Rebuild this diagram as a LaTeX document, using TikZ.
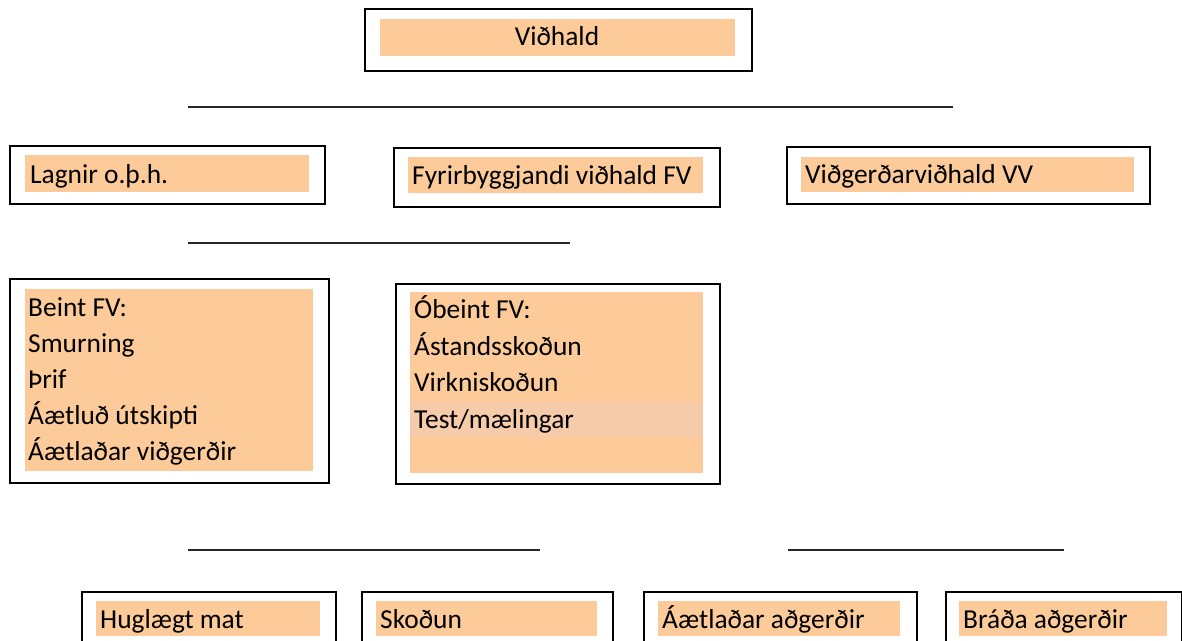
\documentclass[tikz,border=0pt]{standalone}
\usepackage{fontspec}
\setmainfont{Carlito}
\definecolor{peach}{RGB}{253,203,153}
\definecolor{peachrow}{RGB}{245,203,170}
\tikzset{
  obox/.style={draw=black, line width=2pt, inner sep=0pt, anchor=north west, fill=none},
  txt/.style={inner sep=0pt, anchor=base west, font=\fontsize{27.4}{36}\selectfont},
  rule/.style={draw=black!85, line width=1.1pt},
}
\newcommand\mybox[5]{\node[obox, minimum width=#4pt, minimum height=#5pt] (#1) at (#2,#3) {};}
\begin{document}
\begin{tikzpicture}[x=1pt,y=-1pt]
\useasboundingbox (0,0) rectangle (1182,640);
\clip (0,0) rectangle (1182,640);
\fill[white] (0,0) rectangle (1182,640);

% Top box
\mybox{vidhald}{364}{8}{387}{62}
\fill[peach] (380,19) rectangle (735,56);
\node[txt, anchor=base] (tvid) at (557,45) {Viðhald};

\coordinate (l1a) at (188,107); \coordinate (l1b) at (953,107);
\draw[rule] (l1a) -- (l1b);

% Second row
\mybox{lagnir}{9}{145}{315}{58}
\fill[peach] (25,155) rectangle (309,192);
\node[txt] (tlag) at (30,183) {Lagnir o.þ.h.};

\mybox{fyrir}{393}{147}{326}{59}
\fill[peach] (408,157) rectangle (703,193);
\node[txt] (tfyr) at (412,184) {Fyrirbyggjandi viðhald FV};

\mybox{vidg}{786}{146}{363}{57}
\fill[peach] (801,157) rectangle (1134,192);
\node[txt] (tvidg) at (805,183) {Viðgerðarviðhald VV};

\coordinate (l2a) at (188,243); \coordinate (l2b) at (570,243);
\draw[rule] (l2a) -- (l2b);

% Third row
\mybox{beint}{9}{278}{319}{204}
\fill[peach] (25,289) rectangle (313,471);
\node[txt] (b1) at (28,316) {Beint FV:};
\node[txt] (b2) at (28,352) {Smurning};
\node[txt] (b3) at (28,388) {Þrif};
\node[txt] (b4) at (28,424) {Áætluð útskipti};
\node[txt] (b5) at (28,460) {Áætlaðar viðgerðir};

\mybox{obeint}{395}{283}{324}{200}
\fill[peach] (410,292) rectangle (703,473);
\fill[peachrow] (410,402) rectangle (703,437);
\node[txt] (o1) at (414,318) {Óbeint FV:};
\node[txt] (o2) at (414,355) {Ástandsskoðun};
\node[txt] (o3) at (414,391) {Virkniskoðun};
\node[txt] (o4) at (414,428) {Test/mælingar};

\coordinate (l3a) at (188,550); \coordinate (l3b) at (540,550);
\draw[rule] (l3a) -- (l3b);
\coordinate (l4a) at (788,550); \coordinate (l4b) at (1064,550);
\draw[rule] (l4a) -- (l4b);

% Bottom row
\mybox{hug}{81}{591}{254}{70}
\fill[peach] (96,601) rectangle (320,636);
\node[txt] (th) at (100,628) {Huglægt mat};

\mybox{sko}{361}{591}{251}{70}
\fill[peach] (376,601) rectangle (597,636);
\node[txt] (ts) at (380,628) {Skoðun};

\mybox{aaet}{643}{591}{273}{70}
\fill[peach] (658,601) rectangle (900,636);
\node[txt] (ta) at (662,628) {Áætlaðar aðgerðir};

\mybox{brada}{945}{591}{236}{70}
\fill[peach] (959,601) rectangle (1167,636);
\node[txt] (tb) at (963,628) {Bráða aðgerðir};
\end{tikzpicture}
\end{document}
